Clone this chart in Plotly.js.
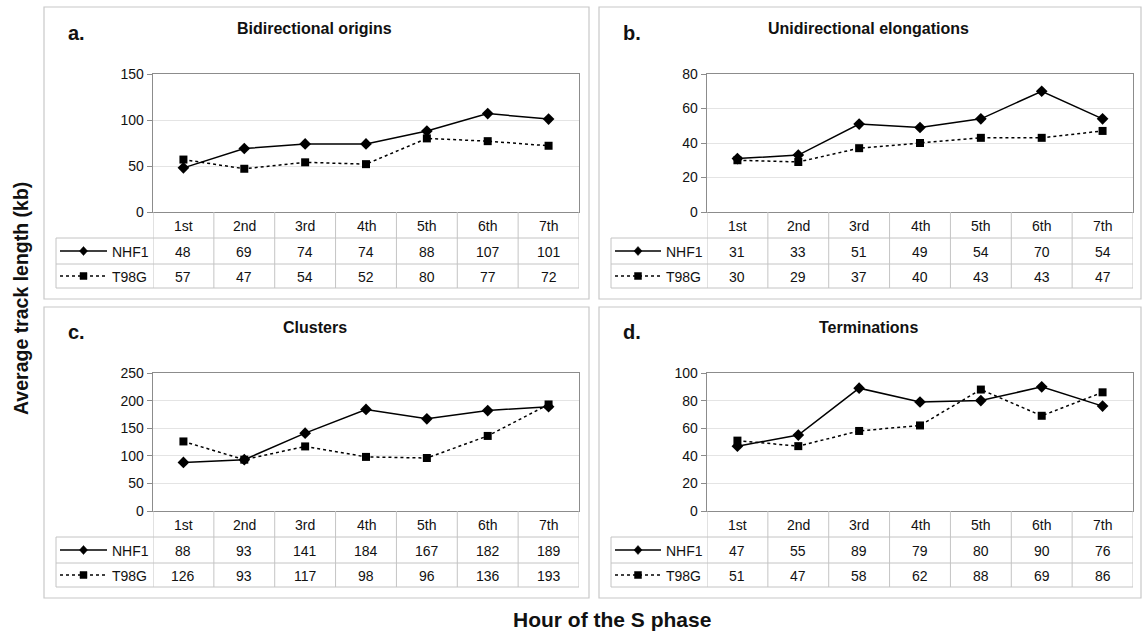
<!DOCTYPE html>
<html>
<head>
<meta charset="utf-8">
<script src="https://cdn.plot.ly/plotly-3.0.1.min.js"></script>
<style>
  html, body { margin: 0; padding: 0; background: #ffffff; }
  #chart { width: 1142px; height: 633px; }
</style>
</head>
<body>
<div id="chart"></div>
<script>
// ---------------- Data ----------------
const categories = ['1st', '2nd', '3rd', '4th', '5th', '6th', '7th'];
const seriesNames = ['NHF1', 'T98G'];

const bidirNHF1 = [48, 69, 74, 74, 88, 107, 101];
const bidirT98G = [57, 47, 54, 52, 80, 77, 72];

const uniNHF1 = [31, 33, 51, 49, 54, 70, 54];
const uniT98G = [30, 29, 37, 40, 43, 43, 47];

const clustNHF1 = [88, 93, 141, 184, 167, 182, 189];
const clustT98G = [126, 93, 117, 98, 96, 136, 193];

const termNHF1 = [47, 55, 89, 79, 80, 90, 76];
const termT98G = [51, 47, 58, 62, 88, 69, 86];

const panelLetters = ['a.', 'b.', 'c.', 'd.'];
const panelTitles = ['Bidirectional origins', 'Unidirectional elongations', 'Clusters', 'Terminations'];
const yMax = [150, 80, 250, 100];
const yStep = [50, 20, 50, 20];

const yTitle = 'Average track length (kb)';
const xTitle = 'Hour of the S phase';

// ---------------- Layout helpers ----------------
const W = 1142, H = 633;
const px = x => x / W;
const py = y => 1 - y / H;

const FONT = 'Liberation Sans, Arial, Helvetica, sans-serif';
const TXT = '#111111';

// panel geometry (pixels)
const panels = [
  {bx0: 44, bx1: 589, by0: 7, by1: 299, pl: 153, pr: 579, pt: 74, pb: 212, tl: 56, legL: 60, legR: 107, text: 110, dy: 0},
  {bx0: 599, bx1: 1141, by0: 7, by1: 299, pl: 707, pr: 1133, pt: 74, pb: 212, tl: 611, legL: 615, legR: 661, text: 664, dy: 0},
  {bx0: 44, bx1: 589, by0: 307, by1: 598, pl: 153, pr: 579, pt: 373, pb: 511, tl: 56, legL: 60, legR: 107, text: 110, dy: 299},
  {bx0: 599, bx1: 1141, by0: 307, by1: 598, pl: 707, pr: 1133, pt: 373, pb: 511, tl: 611, legL: 615, legR: 661, text: 664, dy: 299}
];

const dataSets = [
  [bidirNHF1, bidirT98G],
  [uniNHF1, uniT98G],
  [clustNHF1, clustT98G],
  [termNHF1, termT98G]
];

const traces = [];
const shapes = [];
const annotations = [];
const layout = {
  width: W, height: H,
  margin: {l: 0, r: 0, t: 0, b: 0},
  paper_bgcolor: '#ffffff',
  plot_bgcolor: '#ffffff',
  showlegend: false,
  font: {family: FONT, color: TXT, size: 14}
};

const TABLE_LINE = '#c4c4c4';
const FRAME = '#8c8c8c';

panels.forEach((p, i) => {
  const n = i + 1;
  const xa = n === 1 ? 'x' : 'x' + n;
  const ya = n === 1 ? 'y' : 'y' + n;
  const xKey = n === 1 ? 'xaxis' : 'xaxis' + n;
  const yKey = n === 1 ? 'yaxis' : 'yaxis' + n;
  const rowCat = p.pb + 26, rowA = p.pb + 52, rowB = p.pb + 76;

  layout[xKey] = {
    domain: [px(p.pl), px(p.pr)],
    anchor: ya,
    type: 'category',
    range: [-0.5, categories.length - 0.5],
    showticklabels: false,
    ticks: '',
    showgrid: false,
    zeroline: false,
    showline: true, mirror: true, linecolor: FRAME, linewidth: 1.3,
    fixedrange: true
  };
  layout[yKey] = {
    domain: [py(p.pb), py(p.pt)],
    anchor: xa,
    range: [0, yMax[i]],
    dtick: yStep[i],
    tick0: 0,
    ticks: 'outside', ticklen: 5, tickcolor: FRAME, tickwidth: 1,
    showgrid: true, gridcolor: '#e4e4e4', gridwidth: 1,
    zeroline: false,
    showline: true, mirror: true, linecolor: FRAME, linewidth: 1.3,
    tickfont: {family: FONT, size: 14, color: TXT},
    fixedrange: true
  };

  const [sA, sB] = dataSets[i];
  traces.push({
    type: 'scatter', mode: 'lines+markers', name: seriesNames[0],
    x: categories, y: sA, xaxis: xa, yaxis: ya,
    line: {color: '#000000', width: 1.5, dash: 'solid'},
    marker: {symbol: 'diamond', size: 9, color: '#000000'}
  });
  traces.push({
    type: 'scatter', mode: 'lines+markers', name: seriesNames[1],
    x: categories, y: sB, xaxis: xa, yaxis: ya,
    line: {color: '#000000', width: 1.5, dash: 'dot'},
    marker: {symbol: 'square', size: 8, color: '#000000'}
  });

  // panel border
  shapes.push({type: 'rect', xref: 'paper', yref: 'paper',
    x0: px(p.bx0), x1: px(p.bx1), y0: py(p.by1), y1: py(p.by0),
    line: {color: '#c8c8c8', width: 1.2}, fillcolor: 'rgba(0,0,0,0)', layer: 'below'});

  // table: horizontal lines
  [rowCat, rowA, rowB].forEach(yy => {
    shapes.push({type: 'line', xref: 'paper', yref: 'paper',
      x0: px(p.tl), x1: px(p.pr), y0: py(yy), y1: py(yy),
      line: {color: TABLE_LINE, width: 1}});
  });
  // left border of series-name column
  shapes.push({type: 'line', xref: 'paper', yref: 'paper',
    x0: px(p.tl), x1: px(p.tl), y0: py(rowCat), y1: py(rowB),
    line: {color: TABLE_LINE, width: 1}});
  // column dividers (through axis scale)
  for (let k = 0; k <= categories.length; k++) {
    shapes.push({type: 'line', xref: xa, yref: 'paper',
      x0: k - 0.5, x1: k - 0.5, y0: py(p.pb), y1: py(rowB),
      line: {color: TABLE_LINE, width: 1}});
  }

  // category labels and values
  const rowsY = [(p.pb + rowCat) / 2, (rowCat + rowA) / 2, (rowA + rowB) / 2];
  categories.forEach((c, k) => {
    annotations.push({xref: xa, yref: 'paper', x: c, y: py(rowsY[0] + 1), text: c,
      showarrow: false, xanchor: 'center', yanchor: 'middle', font: {family: FONT, size: 14, color: TXT}});
    annotations.push({xref: xa, yref: 'paper', x: c, y: py(rowsY[1] + 1), text: String(sA[k]),
      showarrow: false, xanchor: 'center', yanchor: 'middle', font: {family: FONT, size: 14, color: TXT}});
    annotations.push({xref: xa, yref: 'paper', x: c, y: py(rowsY[2] + 1), text: String(sB[k]),
      showarrow: false, xanchor: 'center', yanchor: 'middle', font: {family: FONT, size: 14, color: TXT}});
  });

  // legend keys in the table
  const mid = (p.legL + p.legR) / 2;
  shapes.push({type: 'line', xref: 'paper', yref: 'paper',
    x0: px(p.legL), x1: px(p.legR), y0: py(rowsY[1]), y1: py(rowsY[1]),
    line: {color: '#000000', width: 1.5}});
  shapes.push({type: 'path', xref: 'paper', yref: 'paper',
    path: `M ${px(mid)} ${py(rowsY[1] - 4.5)} L ${px(mid + 4)} ${py(rowsY[1])} L ${px(mid)} ${py(rowsY[1] + 4.5)} L ${px(mid - 4)} ${py(rowsY[1])} Z`,
    fillcolor: '#000000', line: {color: '#000000', width: 0.5}});
  shapes.push({type: 'line', xref: 'paper', yref: 'paper',
    x0: px(p.legL), x1: px(p.legR), y0: py(rowsY[2]), y1: py(rowsY[2]),
    line: {color: '#000000', width: 1.5, dash: 'dot'}});
  shapes.push({type: 'rect', xref: 'paper', yref: 'paper',
    x0: px(mid - 3.5), x1: px(mid + 3.5), y0: py(rowsY[2] + 3.5), y1: py(rowsY[2] - 3.5),
    fillcolor: '#000000', line: {color: '#000000', width: 0.5}});
  annotations.push({xref: 'paper', yref: 'paper', x: px(p.text), y: py(rowsY[1] + 1), text: seriesNames[0],
    showarrow: false, xanchor: 'left', yanchor: 'middle', font: {family: FONT, size: 14, color: TXT}});
  annotations.push({xref: 'paper', yref: 'paper', x: px(p.text), y: py(rowsY[2] + 1), text: seriesNames[1],
    showarrow: false, xanchor: 'left', yanchor: 'middle', font: {family: FONT, size: 14, color: TXT}});

  // panel letter and title
  annotations.push({xref: 'paper', yref: 'paper', x: px(p.bx0 + 22), y: py(33 + p.dy), text: panelLetters[i],
    showarrow: false, xanchor: 'left', yanchor: 'middle', font: {family: FONT, size: 20, color: TXT, weight: 'bold'}});
  annotations.push({xref: 'paper', yref: 'paper', x: px((p.bx0 + p.bx1) / 2 - 2), y: py(29 + p.dy), text: panelTitles[i],
    showarrow: false, xanchor: 'center', yanchor: 'middle', font: {family: FONT, size: 16, color: TXT, weight: 'bold'}});
});

// shared axis titles
annotations.push({xref: 'paper', yref: 'paper', x: px(21), y: py(299), text: yTitle, textangle: -90,
  showarrow: false, xanchor: 'center', yanchor: 'middle', font: {family: FONT, size: 19.5, color: TXT, weight: 'bold'}});
annotations.push({xref: 'paper', yref: 'paper', x: px(612), y: py(619), text: xTitle,
  showarrow: false, xanchor: 'center', yanchor: 'middle', font: {family: FONT, size: 21, color: TXT, weight: 'bold'}});

layout.shapes = shapes;
layout.annotations = annotations;

Plotly.newPlot('chart', traces, layout, {displayModeBar: false, staticPlot: true});
</script>
</body>
</html>
